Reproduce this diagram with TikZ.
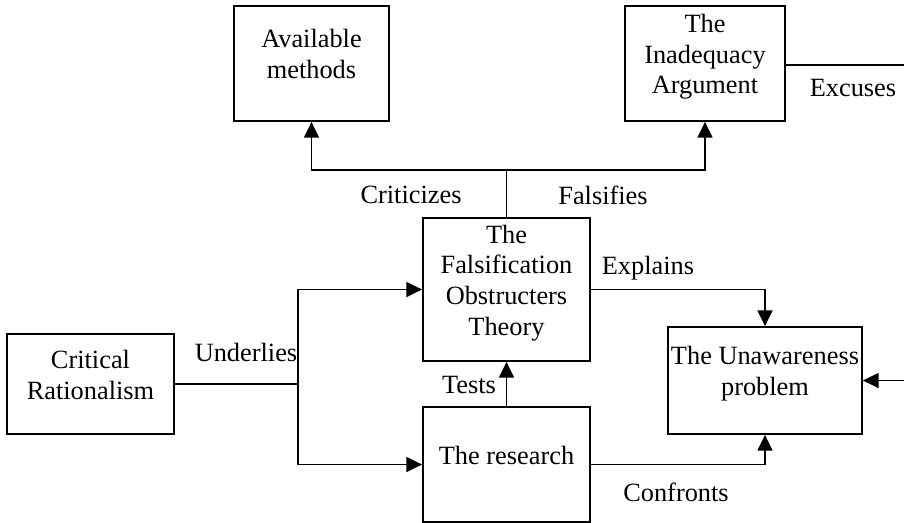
\documentclass[tikz,border=0pt]{standalone}
\usepackage{fontspec}
\setmainfont{Liberation Serif}
\usetikzlibrary{positioning, calc, arrows.meta}

\begin{document}
\begin{tikzpicture}[x=0.02cm, y=-0.02cm,
    every node/.style={font=\fontsize{15}{17.5}\selectfont},
    box/.style={draw, line width=1pt, align=center, inner sep=1pt, text depth=0.38cm},
    lbl/.style={inner sep=0pt},
    arr/.style={line width=1pt, -{Triangle[length=9pt, width=8.5pt]}},
    link/.style={line width=1pt}]
  \clip (0,0) rectangle (904,522);
  % boxes
  \node[box, minimum width=3.1cm, minimum height=2.3cm] (avail) at (311.5,63.5) {Available\\methods};
  \node[box, minimum width=3.2cm, minimum height=2.3cm] (inad) at (705,63.5) {The\\Inadequacy\\Argument};
  \node[box, minimum width=3.34cm, minimum height=2.86cm] (fals) at (506.5,289.5) {The\\Falsification\\Obstructers\\Theory};
  \node[box, minimum width=3.34cm, minimum height=2.0cm] (crit) at (90.5,384) {Critical\\Rationalism};
  \node[box, minimum width=3.34cm, minimum height=2.3cm] (res) at (506.5,464.5) {The research};
  \node[box, minimum width=3.88cm, minimum height=2.14cm] (unaw) at (765,380.5) {The Unawareness\\problem};
  % helper points
  \coordinate (fork) at (506.5,170);
  \coordinate (split) at (298,384);
  \coordinate (excbend) at (940,65);
  % connectors
  \draw[link] (fals.north) -- (fork);
  \draw[arr] (fork) -| (avail.south);
  \draw[arr] (fork) -| (inad.south);
  \draw[link] (crit.east) -- (split);
  \draw[arr] (split) |- (fals.west);
  \draw[arr] (split) |- (res.west);
  \draw[arr] (res.north) -- (fals.south);
  \draw[arr] (fals.east) -| (unaw.north);
  \draw[arr] (res.east) -| (unaw.south);
  \draw[arr] (inad.east |- excbend) -- (excbend) |- (unaw.east);
  % labels
  \node[lbl] (criticizes) at (411,195) {Criticizes};
  \node[lbl] (falsifies) at (603,195) {Falsifies};
  \node[lbl] (excuses) at (853,88) {Excuses};
  \node[lbl] (underlies) at (246,352) {Underlies};
  \node[lbl] (explains) at (648,268) {Explains};
  \node[lbl] (tests) at (469,385) {Tests};
  \node[lbl] (confronts) at (676,492) {Confronts};
\end{tikzpicture}
\end{document}
